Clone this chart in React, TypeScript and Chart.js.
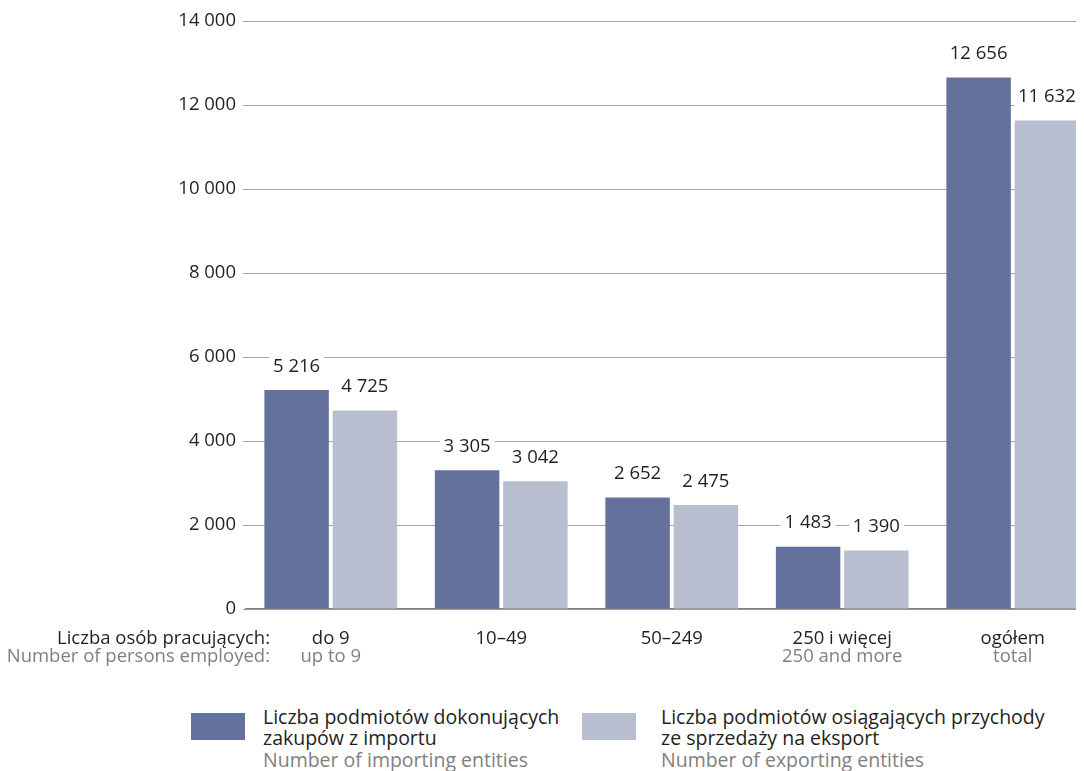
import React, { useEffect, useRef } from 'react';
import { Chart, registerables } from 'chart.js';

Chart.register(...registerables);

const categoriesPL = ['do 9', '10–49', '50–249', '250 i więcej', 'ogółem'];
const categoriesEN = ['up to 9', '', '', '250 and more', 'total'];
const importing = [5216, 3305, 2652, 1483, 12656];
const exporting = [4725, 3042, 2475, 1390, 11632];
const yMin = 0;
const yMax = 14000;
const yStep = 2000;
const axisTitlePL = 'Liczba osób pracujących:';
const axisTitleEN = 'Number of persons employed:';
const seriesPL = [
  ['Liczba podmiotów dokonujących', 'zakupów z importu'],
  ['Liczba podmiotów osiągających przychody', 'ze sprzedaży na eksport'],
];
const seriesEN = ['Number of importing entities', 'Number of exporting entities'];

const DARK = '#64719c';
const LIGHT = '#b8becf';
const TEXT = '#231f20';
const GRAY = '#808080';
const FONT = '"Open Sans", sans-serif';
const FS = 18.5;
const FS_LEGEND = 19.5;
const LINE = FS * 1.2;
const X_PAD = 18.5;
const EN_GAP = 18;

const fmt = (v: number) => String(v).replace(/\B(?=(\d{3})+(?!\d))/g, ' ');

const dataLabelPlugin = {
  id: 'dataLabels',
  afterDatasetsDraw(chart: any) {
    const ctx = chart.ctx;
    ctx.save();
    ctx.font = `${FS}px ${FONT}`;
    ctx.textAlign = 'center';
    ctx.textBaseline = 'middle';
    chart.data.datasets.forEach((ds: any, di: number) => {
      const meta = chart.getDatasetMeta(di);
      meta.data.forEach((el: any, i: number) => {
        const text = fmt(ds.data[i]);
        const w = ctx.measureText(text).width + 8;
        const cy = el.y - 23.5;
        ctx.fillStyle = '#ffffff';
        ctx.fillRect(el.x - w / 2, cy - 11, w, 22);
        ctx.fillStyle = TEXT;
        ctx.fillText(text, el.x, cy);
      });
    });
    ctx.restore();
  },
};

const axisTextPlugin = {
  id: 'axisTexts',
  afterDraw(chart: any) {
    const { ctx, chartArea, scales } = chart;
    const xs = scales.x;
    const yPL = xs.top + X_PAD + LINE / 2;
    const yEN = yPL + EN_GAP;
    ctx.save();
    ctx.font = `${FS}px ${FONT}`;
    ctx.textBaseline = 'middle';
    // English category labels under the Polish tick labels
    ctx.textAlign = 'center';
    ctx.fillStyle = GRAY;
    categoriesEN.forEach((t, i) => {
      if (t) ctx.fillText(t, xs.getPixelForValue(i), yEN);
    });
    // axis captions on the left
    ctx.textAlign = 'right';
    const x = chartArea.left + 24.5;
    ctx.fillStyle = TEXT;
    ctx.fillText(axisTitlePL, x, yPL);
    ctx.fillStyle = GRAY;
    ctx.fillText(axisTitleEN, x, yEN);
    ctx.restore();
  },
};

export default function App() {
  const ref = useRef<HTMLCanvasElement | null>(null);

  useEffect(() => {
    if (!ref.current) return;
    const chart = new Chart(ref.current, {
      type: 'bar',
      data: {
        labels: categoriesPL,
        datasets: [
          {
            label: seriesEN[0],
            data: importing,
            backgroundColor: DARK,
            categoryPercentage: 0.801,
            barPercentage: 0.944,
          },
          {
            label: seriesEN[1],
            data: exporting,
            backgroundColor: LIGHT,
            categoryPercentage: 0.801,
            barPercentage: 0.944,
          },
        ],
      },
      options: {
        responsive: false,
        animation: false,
        devicePixelRatio: 1,
        layout: { padding: { top: 13, right: 2, bottom: 14, left: 0 } },
        plugins: {
          legend: { display: false },
          tooltip: { enabled: false },
        },
        scales: {
          x: {
            type: 'category',
            position: 'bottom',
            offset: true,
            grid: { display: false, drawTicks: false },
            border: { display: true, color: '#7f7f7f', width: 1.2 },
            ticks: {
              color: TEXT,
              font: { family: FONT, size: FS },
              padding: X_PAD,
              maxRotation: 0,
              autoSkip: false,
            },
            afterFit: (s: any) => {
              s.height = 65;
            },
          },
          y: {
            min: yMin,
            max: yMax,
            border: { display: false },
            grid: {
              color: '#a3a3a3',
              lineWidth: 1,
              drawTicks: true,
              tickLength: 2.5,
            },
            ticks: {
              stepSize: yStep,
              padding: 7,
              color: TEXT,
              font: { family: FONT, size: FS },
              callback: (v: any) => fmt(Number(v)),
            },
            afterFit: (s: any) => {
              s.width = 237.5;
              s.paddingTop = 0;
              s.paddingBottom = 0;
            },
          },
        },
      },
      plugins: [dataLabelPlugin, axisTextPlugin],
    });
    return () => chart.destroy();
  }, []);

  const legendItem = (color: string, pl: string[], en: string, sqLeft: number, txtLeft: number) => (
    <>
      <div
        style={{
          position: 'absolute',
          left: sqLeft,
          top: 705,
          width: 54,
          height: 27,
          background: color,
        }}
      />
      <div
        style={{
          position: 'absolute',
          left: txtLeft,
          top: 698,
          fontFamily: FONT,
          fontSize: FS_LEGEND,
          lineHeight: '21px',
          color: TEXT,
          whiteSpace: 'nowrap',
        }}
      >
        {pl.map((l, i) => (
          <div key={i}>{l}</div>
        ))}
        <div style={{ color: GRAY, marginTop: 1 }}>{en}</div>
      </div>
    </>
  );

  return (
    <div style={{ position: 'relative', width: 1076, height: 763, overflow: 'hidden' }}>
      <canvas ref={ref} width={1092} height={680} style={{ display: 'block', width: 1092, height: 680 }} />
      {legendItem(DARK, seriesPL[0], seriesEN[0], 183, 255)}
      {legendItem(LIGHT, seriesPL[1], seriesEN[1], 574, 653)}
    </div>
  );
}
